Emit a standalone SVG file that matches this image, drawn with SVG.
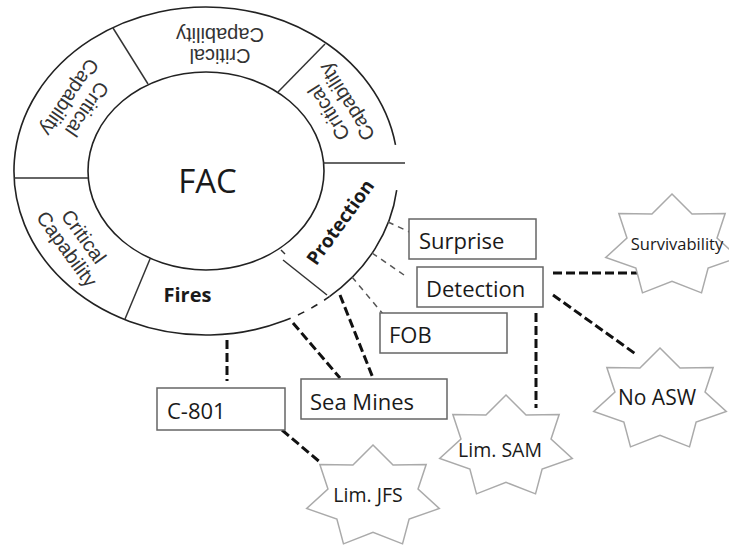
<svg xmlns="http://www.w3.org/2000/svg" width="729" height="548" viewBox="0 0 729 548">
<style>
.ring{fill:none;stroke:#222;stroke-width:1.6}
.dv{fill:none;stroke:#333;stroke-width:1.5}
.cc{font-family:"Liberation Sans",Arial,sans-serif;font-size:20px;fill:#333;text-anchor:middle}
.bold{font-family:"Open Sans",sans-serif;font-weight:bold;fill:#1a1a1a;text-anchor:middle}
.box{fill:#fff;stroke:#666;stroke-width:1.5}
.bt{font-family:"Open Sans",sans-serif;font-size:22px;fill:#1a1a1a}
.star{fill:#fff;stroke:#aaa;stroke-width:1.5}
.st{font-family:"Open Sans",sans-serif;fill:#1a1a1a;text-anchor:middle}
.thin{fill:none;stroke:#555;stroke-width:1.5;stroke-dasharray:6 5}
.thick{fill:none;stroke:#111;stroke-width:3;stroke-dasharray:9 4}
</style>
<defs>
<polygon id="star" points="0,-52 20.05,-31.9 53.16,-32.42 45.04,-7.88 66.29,11.57 36.12,22.07 29.51,46.85 0,35.4 -29.51,46.85 -36.12,22.07 -66.29,11.57 -45.04,-7.88 -53.16,-32.42 -20.05,-31.9"/>
</defs>

<g id="ring">
<ellipse class="ring" cx="206" cy="171" rx="118" ry="99"/>
<path class="ring" d="M395.5,144.8 A192,164 0 1 0 284.1,320.8"/>
<path class="ring" d="M284.1,320.8 A192,164 0 0 0 329.4,296.6" stroke-dasharray="7 8"/>
<path class="ring" d="M329.4,296.6 A192,164 0 0 0 396.7,190.1"/>
<line class="dv" x1="113" y1="28" x2="148" y2="84"/>
<line class="dv" x1="325" y1="44" x2="278" y2="92"/>
<line class="dv" x1="14" y1="178" x2="88" y2="178"/>
<line class="dv" x1="150" y1="259" x2="125" y2="319"/>
<line class="dv" x1="283" y1="260" x2="327" y2="295"/>
<line class="dv" x1="281" y1="250" x2="285" y2="254"/>
<line class="dv" x1="323" y1="163" x2="405" y2="163" stroke-width="2.2"/>
</g>

<g id="fac"><text x="207.5" y="193" font-family="Open Sans, sans-serif" font-size="33" fill="#1a1a1a" text-anchor="middle">FAC</text></g>

<g id="cc-top"><text class="cc" transform="translate(220,45) rotate(180)"><tspan x="0" y="-4">Critical</tspan><tspan x="0" y="17">Capability</tspan></text></g>
<g id="cc-upper-left"><text class="cc" transform="translate(78,103) rotate(124)"><tspan x="0" y="-4">Critical</tspan><tspan x="0" y="17">Capability</tspan></text></g>
<g id="cc-upper-right"><text class="cc" transform="translate(338,107) rotate(-122)"><tspan x="0" y="-4">Critical</tspan><tspan x="0" y="17">Capability</tspan></text></g>
<g id="cc-lower-left"><text class="cc" transform="translate(75,243) rotate(54)"><tspan x="0" y="-4">Critical</tspan><tspan x="0" y="17">Capability</tspan></text></g>

<g id="fires"><text class="bold" x="187.5" y="302" font-size="20">Fires</text></g>
<g id="protection"><text class="bold" font-size="19" transform="translate(340,222) rotate(-54)" y="7">Protection</text></g>

<g id="connectors">
<line class="thin" x1="388" y1="222" x2="416" y2="235"/>
<line class="thin" x1="372" y1="253" x2="404" y2="275"/>
<line class="thin" x1="352" y1="277" x2="383" y2="314"/>
<line class="thick" x1="340" y1="295" x2="373" y2="378"/>
<line class="thick" x1="293" y1="323" x2="340" y2="378"/>
<line class="thick" x1="227" y1="340" x2="227" y2="381"/>
<line class="thick" x1="282" y1="430" x2="321" y2="463"/>
<line class="thick" x1="553" y1="273" x2="637" y2="273"/>
<line class="thick" x1="553" y1="295" x2="637" y2="355"/>
<line class="thick" x1="536" y1="313" x2="536" y2="408"/>
</g>

<g id="surprise"><rect class="box" x="409" y="219" width="127" height="40"/><text class="bt" x="419" y="249">Surprise</text></g>
<g id="detection"><rect class="box" x="417" y="267" width="126" height="40"/><text class="bt" x="426" y="297">Detection</text></g>
<g id="fob"><rect class="box" x="380" y="313" width="127" height="40"/><text class="bt" x="389" y="343">FOB</text></g>
<g id="sea-mines"><rect class="box" x="301" y="379" width="146" height="40"/><text class="bt" x="310" y="410">Sea Mines</text></g>
<g id="c801"><rect class="box" x="157" y="388" width="128" height="42"/><text class="bt" x="167" y="419">C-801</text></g>

<g id="survivability"><use href="#star" class="star" x="672" y="246"/><text class="st" x="677" y="250" style="font-size:16.5px">Survivability</text></g>
<g id="no-asw"><use href="#star" class="star" x="660" y="400"/><text class="st" x="657" y="405" style="font-size:21px">No ASW</text></g>
<g id="lim-sam"><use href="#star" class="star" x="506" y="447"/><text class="st" x="500" y="457" style="font-size:19.5px">Lim. SAM</text></g>
<g id="lim-jfs"><use href="#star" class="star" x="373" y="497"/><text class="st" x="368" y="502" style="font-size:19.5px">Lim. JFS</text></g>
</svg>
